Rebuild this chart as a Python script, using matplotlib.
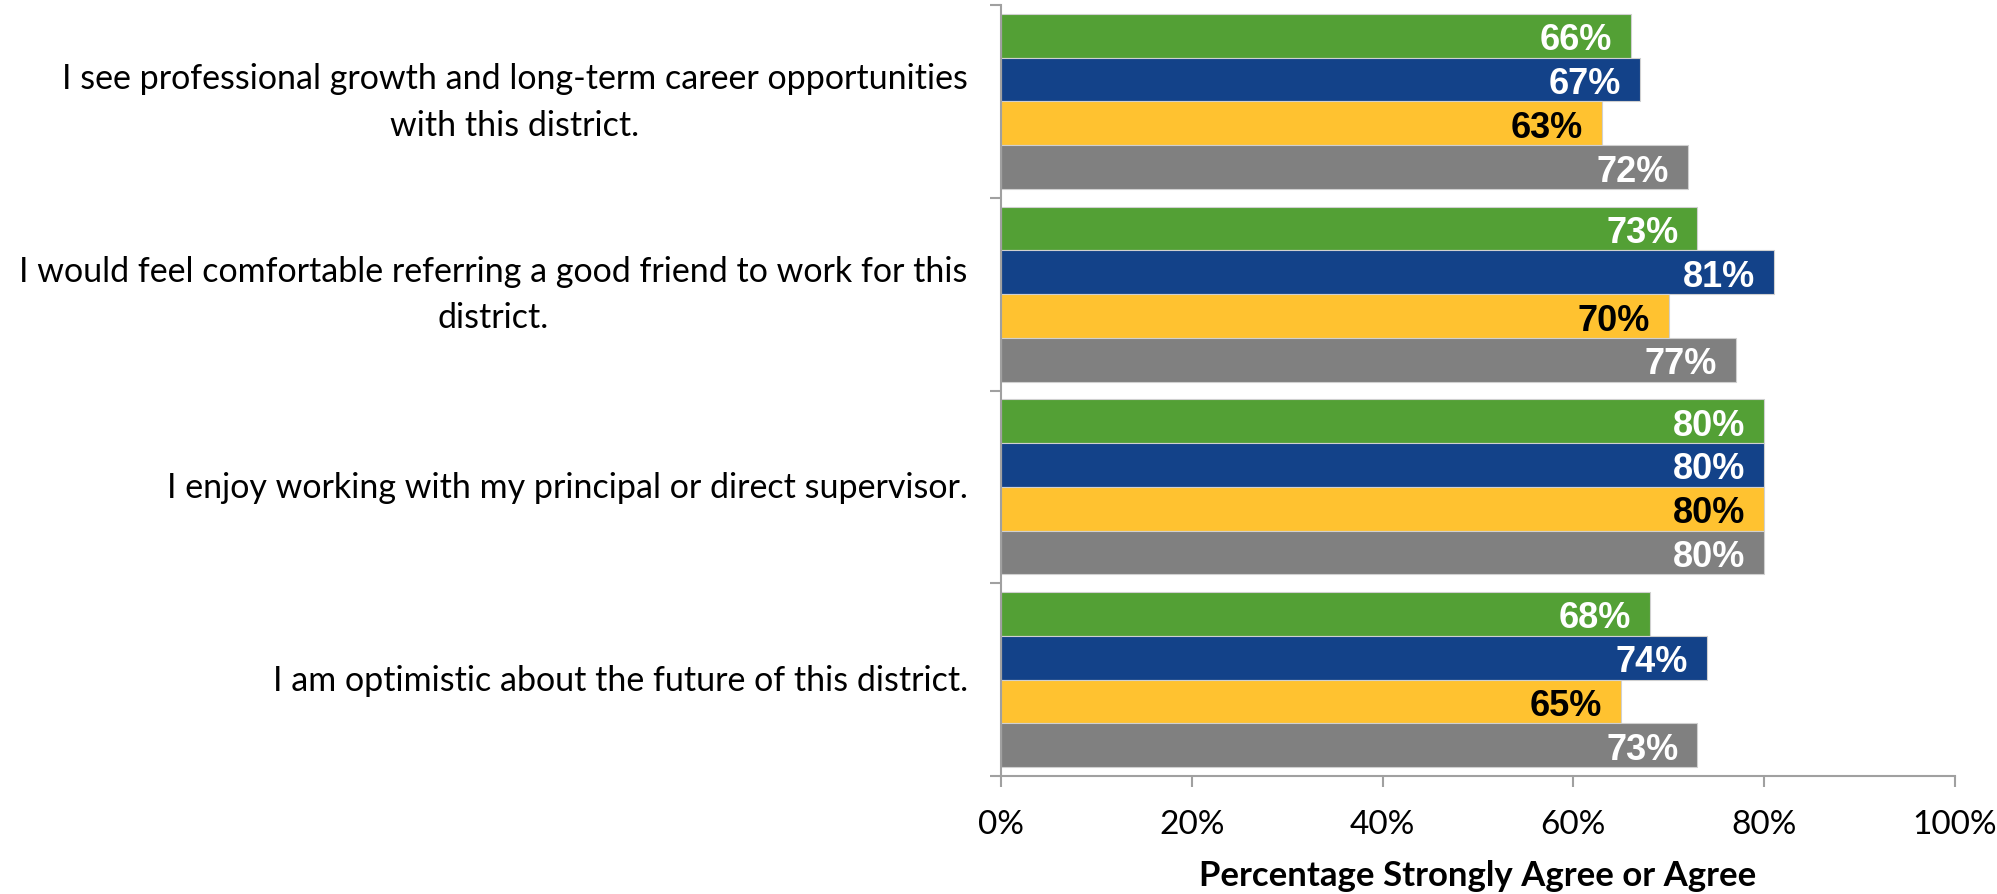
import matplotlib
matplotlib.use("Agg")
import matplotlib.pyplot as plt
import numpy as np

categories = [
    "I see professional growth and long-term career opportunities\nwith this district.",
    "I would feel comfortable referring a good friend to work for this\ndistrict.",
    "I enjoy working with my principal or direct supervisor.",
    "I am optimistic about the future of this district.",
]
series_names = ["Series 1", "Series 2", "Series 3", "Series 4"]
series_values = [
    [66, 73, 80, 68],
    [67, 81, 80, 74],
    [63, 70, 80, 65],
    [72, 77, 80, 73],
]
colors = ["#53A035", "#134289", "#FFC230", "#808080"]
label_colors = ["white", "white", "black", "white"]
x_ticks = [0, 20, 40, 60, 80, 100]
x_tick_labels = ["0%", "20%", "40%", "60%", "80%", "100%"]
x_label = "Percentage Strongly Agree or Agree"

plt.rcParams['font.family'] = ['Lato', 'DejaVu Sans']

fig = plt.figure(figsize=(19.97, 8.95), dpi=100)
ax = fig.add_axes([1001/1997, 1 - 777/895, (1955 - 1001)/1997, (777 - 6)/895])

n = len(series_values)
bh = 0.227
y = np.arange(len(categories))
for i, (name, vals) in enumerate(zip(series_names, series_values)):
    offs = (i - (n - 1) / 2) * bh
    bars = ax.barh(y + offs, vals, height=bh, color=colors[i], edgecolor="#D0D0D0",
                   linewidth=0.8, label=name)
    for b, v in zip(bars, vals):
        ax.annotate(f"{v}%", xy=(v, b.get_y() + b.get_height() / 2),
                    xytext=(-13.5, 0), textcoords="offset points",
                    ha="right", va="center_baseline", color=label_colors[i],
                    fontsize=26, fontweight="bold",
                    family=['Liberation Sans', 'DejaVu Sans'])

ax.set_xlim(0, 100)
ax.set_ylim(len(categories) - 0.5, -0.5)
ax.set_xticks(x_ticks)
ax.set_xticklabels(x_tick_labels, fontsize=24)
ax.set_yticks(np.arange(len(categories) + 1) - 0.5)
ax.set_yticklabels([])
ax.set_yticks(y, minor=True)
ax.set_yticklabels(categories, minor=True, fontsize=24.5, ha="right", va="center",
                   multialignment="center", linespacing=1.55)
ax.tick_params(axis="y", which="minor", length=0, pad=24)
ax.tick_params(axis="y", which="major", length=8, width=1.5, color="#A0A0A0", direction="out")
ax.tick_params(axis="x", length=8, width=1.5, color="#A0A0A0", direction="out", pad=16)
for s in ["top", "right"]:
    ax.spines[s].set_visible(False)
for s in ["left", "bottom"]:
    ax.spines[s].set_color("#A0A0A0")
    ax.spines[s].set_linewidth(1.5)
ax.set_xlabel(x_label, fontsize=25, fontweight="bold", labelpad=14)

fig.savefig("out.png", dpi=100)
